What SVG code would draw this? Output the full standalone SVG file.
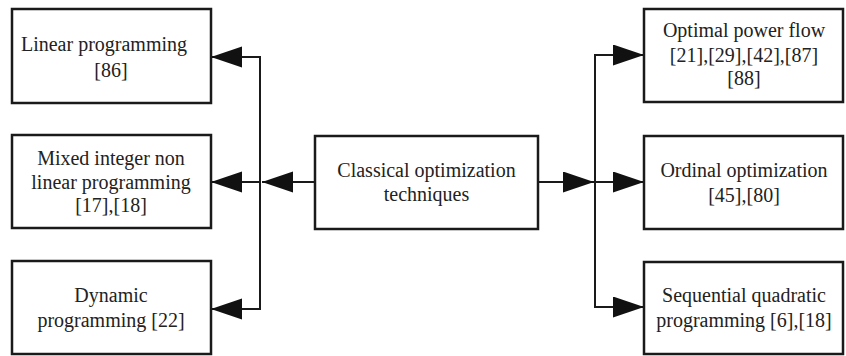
<svg xmlns="http://www.w3.org/2000/svg" width="846" height="356" viewBox="0 0 846 356">
  <style>
    .box { fill: #ffffff; stroke: #1a1a1a; stroke-width: 2.5; }
    .lbl { font-family: "Liberation Serif", "Times New Roman", serif; font-size: 20px; fill: #222222; text-anchor: middle; }
    .wire { fill: none; stroke: #1a1a1a; stroke-width: 2; }
  </style>
  <defs>
    <marker id="head" markerUnits="userSpaceOnUse" markerWidth="32" markerHeight="22" refX="31" refY="10.5" orient="auto">
      <polygon points="0,0 31,10.5 0,21" fill="#111111"/>
    </marker>
  </defs>
  <rect x="0" y="0" width="846" height="356" fill="#ffffff"/>

  <!-- connectors -->
  <g id="connectors">
    <!-- left fan-out -->
    <path class="wire" d="M315,182 H262" marker-end="url(#head)"/>
    <path class="wire" d="M260,182 V57 H211" marker-end="url(#head)"/>
    <path class="wire" d="M260,182 H211" marker-end="url(#head)"/>
    <path class="wire" d="M260,182 V309 H211" marker-end="url(#head)"/>
    <!-- right fan-out -->
    <path class="wire" d="M538,182 H594" marker-end="url(#head)"/>
    <path class="wire" d="M595,182 V55 H644" marker-end="url(#head)"/>
    <path class="wire" d="M595,182 H644" marker-end="url(#head)"/>
    <path class="wire" d="M595,182 V307 H644" marker-end="url(#head)"/>
  </g>

  <g id="linear-programming">
    <rect class="box" x="12" y="9" width="199" height="94"/>
    <text class="lbl" x="104" y="51">Linear programming</text>
    <text class="lbl" x="111" y="77">[86]</text>
  </g>

  <g id="minlp">
    <rect class="box" x="12" y="135" width="199" height="93"/>
    <text class="lbl" x="111" y="165">Mixed integer non</text>
    <text class="lbl" x="111" y="188.5">linear programming</text>
    <text class="lbl" x="111" y="212">[17],[18]</text>
  </g>

  <g id="dynamic-programming">
    <rect class="box" x="12" y="261" width="199" height="93"/>
    <text class="lbl" x="111" y="302">Dynamic</text>
    <text class="lbl" x="111" y="326.5">programming [22]</text>
  </g>

  <g id="classical">
    <rect class="box" x="315" y="136" width="223" height="93"/>
    <text class="lbl" x="426.5" y="177">Classical optimization</text>
    <text class="lbl" x="426.5" y="201">techniques</text>
  </g>

  <g id="optimal-power-flow">
    <rect class="box" x="644" y="9" width="199" height="93"/>
    <text class="lbl" x="744" y="37">Optimal power flow</text>
    <text class="lbl" x="744" y="61.5">[21],[29],[42],[87]</text>
    <text class="lbl" x="744" y="85">[88]</text>
  </g>

  <g id="ordinal-optimization">
    <rect class="box" x="644" y="136" width="199" height="93"/>
    <text class="lbl" x="744" y="177">Ordinal optimization</text>
    <text class="lbl" x="744" y="202">[45],[80]</text>
  </g>

  <g id="sqp">
    <rect class="box" x="644" y="262" width="199" height="92"/>
    <text class="lbl" x="744" y="302">Sequential quadratic</text>
    <text class="lbl" x="744" y="327">programming [6],[18]</text>
  </g>
</svg>
